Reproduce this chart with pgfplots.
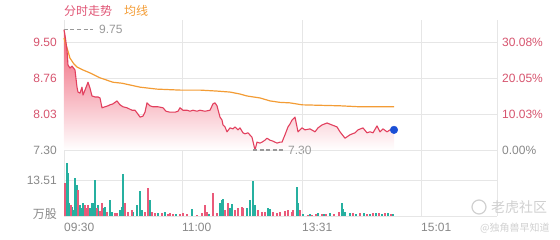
\documentclass[border=0pt]{standalone}
\usepackage{pgfplots}
\pgfplotsset{compat=1.18}
\usepackage{pgfplotstable}
\usepackage{fontspec}
\setmainfont{Liberation Sans}
\newfontfamily\cjk{Noto Sans CJK SC}
\definecolor{pline}{HTML}{E2405E}
\definecolor{avg}{HTML}{F39C35}
\definecolor{lred}{HTML}{D6546E}
\definecolor{tred}{HTML}{E05575}
\definecolor{vred}{HTML}{EA5A7A}
\definecolor{vteal}{HTML}{26B0A0}
\definecolor{gridc}{HTML}{E6E6E6}
\definecolor{lgrey}{HTML}{888888}
\definecolor{dgrey}{HTML}{999999}
\definecolor{fillc}{HTML}{EF5C72}
\definecolor{dotc}{HTML}{1A4FD6}
\definecolor{wm}{HTML}{D0D0D0}

\pgfplotstableread{
x p
0 9.75
1 9.64
3 9.34
4 9.03
6 8.97
8 9.01
11 8.93
13 8.58
14 8.48
16 8.46
18 8.58
19 8.42
21 8.52
24 8.68
26 8.56
28 8.40
31 8.38
34 8.38
36 8.36
38 8.16
41 8.18
44 8.20
46 8.22
49 8.24
53 8.30
56 8.22
59 8.18
63 8.16
68 8.11
71 8.11
74 8.03
76 7.97
79 7.99
81 8.07
83 8.26
86 8.20
89 8.18
94 8.18
99 8.16
102 8.09
106 8.07
111 8.07
114 8.09
116 8.16
119 8.11
123 8.11
126 8.09
129 8.11
133 8.09
136 8.11
141 8.09
146 8.11
149 8.24
151 8.26
153 8.20
156 7.97
158 7.91
159 7.81
161 7.77
163 7.67
166 7.75
169 7.73
171 7.77
174 7.71
176 7.75
179 7.65
181 7.63
184 7.65
188 7.56
191 7.30
193 7.46
196 7.44
198 7.46
201 7.50
203 7.54
206 7.50
209 7.48
213 7.44
216 7.46
218 7.46
221 7.61
224 7.77
226 7.83
228 7.91
231 7.97
234 7.67
238 7.75
241 7.71
246 7.73
251 7.67
254 7.75
258 7.81
263 7.85
268 7.81
273 7.77
276 7.67
281 7.54
286 7.61
291 7.65
294 7.71
299 7.75
303 7.65
306 7.67
309 7.65
313 7.79
316 7.67
319 7.73
323 7.67
326 7.71
330 7.71
}\price

\pgfplotstableread{
x p
0 7.30
0 9.75
1 9.64
3 9.34
4 9.03
6 8.97
8 9.01
11 8.93
13 8.58
14 8.48
16 8.46
18 8.58
19 8.42
21 8.52
24 8.68
26 8.56
28 8.40
31 8.38
34 8.38
36 8.36
38 8.16
41 8.18
44 8.20
46 8.22
49 8.24
53 8.30
56 8.22
59 8.18
63 8.16
68 8.11
71 8.11
74 8.03
76 7.97
79 7.99
81 8.07
83 8.26
86 8.20
89 8.18
94 8.18
99 8.16
102 8.09
106 8.07
111 8.07
114 8.09
116 8.16
119 8.11
123 8.11
126 8.09
129 8.11
133 8.09
136 8.11
141 8.09
146 8.11
149 8.24
151 8.26
153 8.20
156 7.97
158 7.91
159 7.81
161 7.77
163 7.67
166 7.75
169 7.73
171 7.77
174 7.71
176 7.75
179 7.65
181 7.63
184 7.65
188 7.56
191 7.30
193 7.46
196 7.44
198 7.46
201 7.50
203 7.54
206 7.50
209 7.48
213 7.44
216 7.46
218 7.46
221 7.61
224 7.77
226 7.83
228 7.91
231 7.97
234 7.67
238 7.75
241 7.71
246 7.73
251 7.67
254 7.75
258 7.81
263 7.85
268 7.81
273 7.77
276 7.67
281 7.54
286 7.61
291 7.65
294 7.71
299 7.75
303 7.65
306 7.67
309 7.65
313 7.79
316 7.67
319 7.73
323 7.67
326 7.71
330 7.71
330 7.30
}\pricefill

\pgfplotstableread{
x p
0 9.58
3 9.38
6 9.17
10 9.05
13 8.99
19 8.93
26 8.87
36 8.77
49 8.68
58 8.66
76 8.58
93 8.54
116 8.52
136 8.52
153 8.50
166 8.48
176 8.44
183 8.40
196 8.36
206 8.30
216 8.27
226 8.26
238 8.22
276 8.20
296 8.18
330 8.18
}\avgline

\pgfplotstableread{
x v
3 19.75
4 16.0
5 5.0
6 4.1
8 3.5
9 2.2
11 14.1
13 11.6
16 4.1
18 2.9
19 4.75
26 2.9
28 4.75
29 4.75
31 13.5
34 4.1
39 2.9
41 3.5
46 6.0
48 1.6
56 2.2
58 3.5
59 15.75
69 1.6
73 4.1
76 9.5
78 2.2
86 6.0
94 1.0
101 1.6
112 0.6
128 2.5
145 0.8
156 4.75
158 6.0
159 6.25
166 2.9
168 4.5
183 2.9
186 6.0
189 13.25
191 4.1
204 2.9
206 2.5
233 11.0
234 4.75
239 0.6
246 0.9
254 1.0
260 0.8
266 1.0
278 4.75
279 2.5
281 1.6
286 1.2
292 0.9
300 1.0
306 0.8
312 1.1
318 0.9
324 1.0
329 0.8
}\volteal

\pgfplotstableread{
x v
1 12.25
7 4.1
14 9.75
21 4.1
23 2.9
24 4.1
33 2.9
36 1.9
38 4.75
43 1.6
51 1.0
53 1.0
61 4.75
64 1.6
68 2.2
81 1.6
84 10.4
88 1.6
91 1.0
98 1.0
104 0.75
106 1.0
109 0.6
116 0.75
119 1.0
123 0.75
133 0.4
138 1.0
141 4.1
143 1.6
149 8.5
153 1.0
161 2.2
164 5.0
171 2.2
174 2.9
178 3.5
179 2.9
194 2.2
198 1.6
201 1.6
209 1.6
213 1.0
216 1.6
221 1.9
224 2.25
228 1.6
229 2.25
236 2.25
244 0.4
248 0.5
252 0.6
258 0.8
262 0.7
270 0.8
275 1.6
289 1.1
296 1.3
303 0.9
309 1.2
315 1.0
321 1.1
327 0.9
}\volred

\begin{document}
\begin{tikzpicture}[x=1pt,y=1pt]
\useasboundingbox (0,0) rectangle (560,240);

% price axis (left labels, grid)
\begin{axis}[
  at={(64pt,90pt)}, anchor=south west,
  scale only axis, width=433pt, height=130pt,
  xmin=0, xmax=433, ymin=7.30, ymax=9.948,
  clip=false,
  axis line style={draw=none},
  major tick length=0pt,
  xtick={0,118,238,357,433}, xticklabels={},
  ytick={7.30,8.03,8.76,9.50},
  yticklabels={\textcolor{lgrey}{7.30},8.03,8.76,9.50},
  yticklabel style={text=lred, anchor=east, inner sep=0pt, xshift=-7pt, font=\fontsize{12}{14}\selectfont},
  grid=major, major grid style={gridc, line width=0.8pt},
]
\addplot[draw=none, top color=fillc, bottom color=white] table[x=x,y=p] {\pricefill};
\addplot[avg, line width=1.2pt] table[x=x,y=p] {\avgline};
\addplot[pline, line width=1.1pt, line join=round] table[x=x,y=p] {\price};
\addplot[dgrey, line width=1.3pt, dash pattern=on 4pt off 2.5pt] coordinates {(0,9.75) (29,9.75)};
\addplot[dgrey, line width=1.3pt, dash pattern=on 4pt off 2.5pt] coordinates {(189,7.30) (219,7.30)};
\addplot[only marks, mark=*, mark size=3.8pt, mark options={fill=dotc, draw=dotc}] coordinates {(330,7.71)};
\node[anchor=west, text=dgrey, inner sep=0pt, font=\fontsize{12}{14}\selectfont] at (axis cs:35,9.75) {9.75};
\node[anchor=west, text=dgrey, inner sep=0pt, font=\fontsize{12}{14}\selectfont] at (axis cs:224,7.30) {7.30};
\end{axis}

% right percent labels
\begin{axis}[
  at={(64pt,90pt)}, anchor=south west,
  scale only axis, width=433pt, height=130pt,
  xmin=0, xmax=433, ymin=7.30, ymax=9.948,
  axis line style={draw=none},
  major tick length=0pt,
  xtick=\empty,
  ytick={7.30,8.032,8.764,9.496},
  yticklabels={\textcolor{lgrey}{0.00\%},10.03\%,20.05\%,30.08\%},
  yticklabel pos=right,
  yticklabel style={text=lred, anchor=west, inner sep=0pt, xshift=5pt, font=\fontsize{12}{14}\selectfont},
]
\addplot[draw=none] coordinates {(0,8)};
\end{axis}

% volume axis
\begin{axis}[
  at={(64pt,24pt)}, anchor=south west,
  scale only axis, width=433pt, height=66pt,
  xmin=0, xmax=433, ymin=0, ymax=24.77,
  axis line style={draw=none},
  major tick length=0pt,
  xtick={0,118,238,357,433},
  xticklabels={09:30,11:00,13:31,15:01,{}},
  xticklabel style={text=lgrey, anchor=north west, inner sep=0pt, yshift=-7pt, font=\fontsize{12}{14}\selectfont},
  ytick={0,13.51},
  yticklabels={\raisebox{5pt}{\cjk 万股},13.51},
  yticklabel style={text=lgrey, anchor=east, inner sep=0pt, xshift=-7pt, font=\fontsize{12}{14}\selectfont},
  grid=major, major grid style={gridc, line width=0.8pt},
]
\addplot[ycomb, vteal, line width=1.1pt] table[x=x,y=v] {\volteal};
\addplot[ycomb, vred, line width=1.1pt] table[x=x,y=v] {\volred};
\end{axis}

% titles
\node[anchor=west, inner sep=0pt, text=tred, font=\fontsize{12}{14}\selectfont\cjk] at (64,229) {分时走势};
\node[anchor=west, inner sep=0pt, text=avg, font=\fontsize{12}{14}\selectfont\cjk] at (124,229) {均线};

% watermark
\draw[wm, line width=1.2pt] (479,33) circle (7);
\node[anchor=west, inner sep=0pt, text=wm, font=\fontsize{14}{16}\selectfont\cjk] at (491,33) {老虎社区};
\node[anchor=west, inner sep=0pt, text=wm, font=\fontsize{10}{12}\selectfont\cjk] at (480,12) {@独角兽早知道};
\end{tikzpicture}
\end{document}
